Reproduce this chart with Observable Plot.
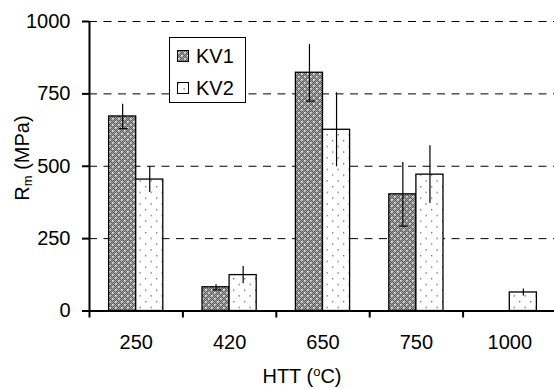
<!DOCTYPE html>
<html>
<head>
<meta charset="utf-8">
<script src="https://cdn.jsdelivr.net/npm/d3@7"></script>
<script src="https://cdn.jsdelivr.net/npm/@observablehq/plot@0.6"></script>
<style>
  html, body { margin: 0; padding: 0; background: #fff; }
  #chart svg { display: block; }
</style>
</head>
<body>
<div id="chart"></div>
<script>
// ---- data ----
const categories = ["250", "420", "650", "750", "1000"];
const seriesNames = ["KV1", "KV2"];
const kv1 = [672, 82, 823, 403, null];
const kv1Err = [42, 9, 98, 110, null];
const kv2 = [454, 124, 626, 471, 64];
const kv2Err = [45, 30, 128, 100, 12];
const yTicks = [0, 250, 500, 750, 1000];
const xTitle = "HTT (";
const yTitle = "R";

// ---- table built from the arrays ----
const barW = 0.29; // bar width in category units
const rows = [];
categories.forEach((c, i) => {
  if (kv1[i] != null) rows.push({cat: c, i, series: "KV1", value: kv1[i], err: kv1Err[i], x1: i + 0.5 - barW, x2: i + 0.5});
  if (kv2[i] != null) rows.push({cat: c, i, series: "KV2", value: kv2[i], err: kv2Err[i], x1: i + 0.5, x2: i + 0.5 + barW});
});
rows.forEach(d => { d.xc = (d.x1 + d.x2) / 2; });

const font = "'Liberation Sans', Arial, sans-serif";
const W = 554, H = 389;
const FS = 20;

const plot = Plot.plot({
  width: W,
  height: H,
  marginLeft: 89,
  marginRight: 0,
  marginTop: 21,
  marginBottom: 78.5,
  style: {fontFamily: font, fontSize: FS + "px", color: "#000", background: "#fff"},
  x: {domain: [0, 5], range: [89, 556]},
  y: {domain: [0, 1000]},
  marks: [
    Plot.ruleY(yTicks.filter(v => v > 0), {stroke: "#000", strokeWidth: 1, strokeDasharray: "8,6.5"}),
    Plot.rectY(rows, {
      x1: "x1", x2: "x2", y1: 0, y2: "value",
      fill: d => d.series === "KV1" ? "url(#patKV1)" : "url(#patKV2)",
      stroke: "#000", strokeWidth: 1.3
    }),
    Plot.ruleX(rows, {x: "xc", y1: d => d.value - d.err, y2: d => d.value + d.err, stroke: "#000", strokeWidth: 1.2}),
    Plot.ruleY(rows.filter(d => d.series === "KV1"), {
      y: d => d.value - d.err, x1: d => d.xc - 0.035, x2: d => d.xc + 0.06, stroke: "#000", strokeWidth: 1.2
    }),
    Plot.ruleY([0], {stroke: "#000", strokeWidth: 2}),
    Plot.ruleX([0], {y1: 0, y2: 1000, stroke: "#000", strokeWidth: 2}),
    Plot.axisY({ticks: yTicks, tickSize: 7, tickPadding: 12, strokeWidth: 2, label: null, fontSize: FS, tickFormat: d => String(d)}),
    Plot.axisX({ticks: d3.range(6), tickSize: 7, strokeWidth: 2, tickFormat: () => "", label: null}),
    Plot.text(categories, {x: (d, i) => i + 0.5, y: 0, dy: 32, text: d => d, fontSize: FS, fill: "#000"})
  ]
});

const svg = d3.select(plot);
const defs = svg.insert("defs", ":first-child");

// KV1: dark checkered fill with white dots
const p1 = defs.append("pattern").attr("id", "patKV1").attr("patternUnits", "userSpaceOnUse")
  .attr("width", 6).attr("height", 6);
p1.append("rect").attr("width", 6).attr("height", 6).attr("fill", "#5e5e5e");
for (let yy = 0; yy < 6; yy++) for (let xx = 0; xx < 6; xx++) {
  if ((xx + yy) % 2 === 0) p1.append("rect").attr("x", xx).attr("y", yy).attr("width", 1).attr("height", 1).attr("fill", "#a0a0a0");
}
p1.append("rect").attr("x", 1).attr("y", 1).attr("width", 1.6).attr("height", 1.6).attr("fill", "#fff");
p1.append("rect").attr("x", 4).attr("y", 4).attr("width", 1.6).attr("height", 1.6).attr("fill", "#eee");

// KV2: white with sparse dots
const p2 = defs.append("pattern").attr("id", "patKV2").attr("patternUnits", "userSpaceOnUse")
  .attr("width", 11).attr("height", 11.5);
p2.append("rect").attr("width", 11).attr("height", 11.5).attr("fill", "#fff");
p2.append("rect").attr("x", 2).attr("y", 2).attr("width", 1.3).attr("height", 1.3).attr("fill", "#666");
p2.append("rect").attr("x", 7.5).attr("y", 7.8).attr("width", 1.3).attr("height", 1.3).attr("fill", "#666");

// axis titles
svg.append("text")
  .attr("transform", "translate(29,158) rotate(-90)")
  .attr("text-anchor", "middle")
  .attr("font-family", font).attr("font-size", FS).attr("fill", "#000")
  .call(t => {
    t.append("tspan").text(yTitle);
    t.append("tspan").attr("font-size", 13).attr("dy", 3).text("m");
    t.append("tspan").attr("dy", -3).text(" (MPa)");
  });

svg.append("text")
  .attr("x", 302).attr("y", 383)
  .attr("text-anchor", "middle")
  .attr("font-family", font).attr("font-size", FS).attr("fill", "#000")
  .call(t => {
    t.append("tspan").text(xTitle);
    t.append("tspan").attr("font-size", 13).attr("dy", -7).text("o");
    t.append("tspan").attr("dy", 7).text("C)");
  });

// legend
const lg = svg.append("g").attr("font-family", font).attr("font-size", FS).attr("text-anchor", "start");
lg.append("rect").attr("x", 169.5).attr("y", 37.5).attr("width", 76).attr("height", 65)
  .attr("fill", "#fff").attr("stroke", "#000").attr("stroke-width", 1);
seriesNames.forEach((name, k) => {
  const y0 = 50 + k * 32;
  lg.append("rect").attr("x", 177.5).attr("y", y0 + 0.5).attr("width", 11).attr("height", 11)
    .attr("fill", k === 0 ? "url(#patKV1)" : "url(#patKV2)").attr("stroke", "#000").attr("stroke-width", 1);
  lg.append("text").attr("x", 196).attr("y", y0 + 12.5).attr("fill", "#000").attr("text-anchor", "start").text(name);
});

document.getElementById("chart").appendChild(plot);
</script>
</body>
</html>
